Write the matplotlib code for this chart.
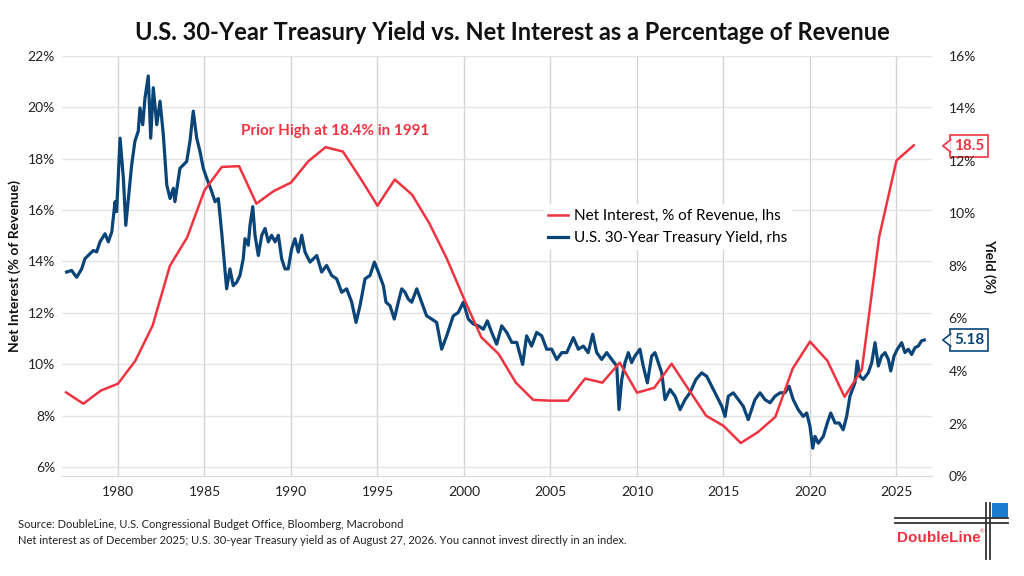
import numpy as np
import matplotlib
matplotlib.use("Agg")
import matplotlib.pyplot as plt
import matplotlib.transforms as mtransforms
from matplotlib.patches import Polygon, Rectangle
from matplotlib.lines import Line2D

plt.rcParams['font.family'] = ['Lato', 'DejaVu Sans']

RED = '#ef3340'
BLUE = '#0b4577'

# net interest, % of revenue (annual, left axis)
ni_years = list(range(1977, 2027))
net_interest = [8.90, 8.46, 8.97, 9.24, 10.13, 11.50, 13.83, 14.94, 16.77, 17.68,
                17.71, 16.25, 16.74, 17.07, 17.90, 18.45, 18.28, 17.25, 16.17, 17.19,
                16.60, 15.48, 14.12, 12.55, 11.05, 10.40, 9.28, 8.61, 8.58, 8.58,
                9.44, 9.28, 10.06, 8.89, 9.08, 10.02, 9.00, 7.99, 7.60, 6.93,
                7.36, 7.95, 9.83, 10.88, 10.14, 8.73, 9.79, 14.96, 17.93, 18.52]

# U.S. 30-year treasury yield (right axis)
ty_dates = [1977.03, 1977.32, 1977.61, 1977.90, 1978.09, 1978.57, 1978.77, 1978.96, 1979.25, 1979.44,
            1979.64, 1979.83, 1979.92, 1980.12, 1980.31, 1980.45, 1980.60, 1980.79, 1980.98, 1981.17,
            1981.27, 1981.43, 1981.56, 1981.75, 1981.89, 1982.04, 1982.24, 1982.43, 1982.62, 1982.82,
            1983.01, 1983.20, 1983.29, 1983.58, 1983.77, 1983.97, 1984.16, 1984.35, 1984.55, 1984.74,
            1984.93, 1985.13, 1985.42, 1985.61, 1985.80, 1985.99, 1986.18, 1986.28, 1986.47, 1986.66,
            1986.86, 1987.05, 1987.24, 1987.34, 1987.53, 1987.63, 1987.79, 1987.92, 1988.11, 1988.31,
            1988.50, 1988.69, 1988.88, 1989.08, 1989.27, 1989.46, 1989.65, 1989.84, 1990.04, 1990.23,
            1990.42, 1990.62, 1990.81, 1991.10, 1991.49, 1991.77, 1992.06, 1992.35, 1992.64, 1992.93,
            1993.22, 1993.51, 1993.76, 1993.99, 1994.28, 1994.57, 1994.82, 1995.05, 1995.34, 1995.49,
            1995.72, 1995.97, 1996.20, 1996.40, 1996.59, 1996.78, 1996.98, 1997.27, 1997.55, 1997.84,
            1998.13, 1998.42, 1998.71, 1999.00, 1999.38, 1999.67, 1999.96, 2000.25, 2000.54, 2000.83,
            2001.12, 2001.35, 2001.60, 2001.89, 2002.18, 2002.47, 2002.76, 2003.05, 2003.39, 2003.62,
            2003.91, 2004.20, 2004.49, 2004.78, 2005.07, 2005.36, 2005.65, 2005.94, 2006.32, 2006.61,
            2006.90, 2007.18, 2007.44, 2007.67, 2007.96, 2008.25, 2008.54, 2008.83, 2008.96, 2009.12,
            2009.31, 2009.50, 2009.69, 2009.88, 2010.17, 2010.36, 2010.60, 2010.85, 2011.04, 2011.23,
            2011.43, 2011.62, 2011.91, 2012.20, 2012.49, 2012.78, 2013.06, 2013.41, 2013.74, 2014.03,
            2014.32, 2014.61, 2014.90, 2015.09, 2015.28, 2015.57, 2015.86, 2016.14, 2016.43, 2016.82,
            2017.11, 2017.40, 2017.69, 2017.98, 2018.27, 2018.55, 2018.79, 2019.03, 2019.32, 2019.61,
            2019.81, 2020.00, 2020.16, 2020.29, 2020.48, 2020.77, 2021.00, 2021.20, 2021.45, 2021.69,
            2021.92, 2022.12, 2022.31, 2022.60, 2022.73, 2022.89, 2023.08, 2023.37, 2023.57, 2023.76,
            2023.95, 2024.14, 2024.34, 2024.53, 2024.67, 2024.86, 2025.05, 2025.30, 2025.49, 2025.68,
            2025.88, 2026.07, 2026.26, 2026.45, 2026.61]
ty_yield = [7.77, 7.83, 7.57, 7.89, 8.28, 8.59, 8.54, 8.92, 9.23, 8.92,
            9.30, 10.45, 10.07, 12.87, 11.34, 9.55, 10.57, 11.85, 12.76, 13.13,
            14.02, 13.38, 14.40, 15.24, 12.87, 14.79, 13.38, 14.28, 13.00, 11.08,
            10.57, 10.96, 10.45, 11.72, 11.85, 11.98, 12.75, 13.90, 12.87, 12.36,
            11.72, 11.34, 10.83, 10.45, 10.57, 9.30, 7.89, 7.13, 7.89, 7.25,
            7.38, 7.64, 8.28, 9.04, 8.79, 9.55, 10.26, 9.17, 8.40, 9.17,
            9.43, 8.92, 9.17, 8.92, 9.17, 8.28, 7.89, 7.89, 8.66, 9.04,
            8.53, 9.17, 8.53, 8.15, 8.40, 7.77, 8.02, 7.64, 7.51, 7.00,
            7.13, 6.62, 5.85, 6.49, 7.51, 7.64, 8.15, 7.77, 7.25, 6.62,
            6.49, 5.98, 6.62, 7.13, 7.00, 6.74, 6.62, 7.13, 6.62, 6.10,
            5.98, 5.85, 4.83, 5.34, 6.10, 6.23, 6.62, 5.98, 5.79, 5.72,
            5.59, 5.91, 5.47, 5.02, 5.72, 5.47, 5.09, 5.09, 4.25, 5.34,
            4.95, 5.47, 5.34, 4.83, 4.83, 4.44, 4.70, 4.70, 5.27, 4.83,
            4.95, 4.70, 5.40, 4.70, 4.44, 4.70, 4.44, 4.19, 2.53, 3.68,
            4.32, 4.70, 4.32, 4.57, 4.83, 4.19, 3.55, 4.57, 4.70, 4.32,
            3.93, 2.91, 3.30, 3.04, 2.53, 2.91, 3.17, 3.68, 3.93, 3.80,
            3.42, 3.04, 2.66, 2.27, 3.04, 3.17, 2.91, 2.66, 2.15, 2.91,
            3.17, 2.91, 2.79, 3.04, 3.17, 3.17, 3.42, 2.91, 2.53, 2.27,
            2.40, 1.89, 1.06, 1.51, 1.25, 1.51, 2.02, 2.40, 2.02, 2.02,
            1.76, 2.27, 3.04, 3.55, 4.38, 3.80, 3.68, 3.93, 4.32, 5.08,
            4.19, 4.57, 4.70, 4.44, 4.00, 4.57, 4.83, 5.08, 4.70, 4.83,
            4.63, 4.89, 4.95, 5.15, 5.18]

ni_last = 18.5
ty_last = 5.18

fig = plt.figure(figsize=(10.24, 5.76), dpi=100)
ax = fig.add_axes([0.0605, 0.1736, 0.8496, 0.7292])
ax2 = ax.twinx()

ax.set_xlim(1976.76, 2027.05)
ax.set_ylim(5.646, 22)
ax2.set_ylim(0, 16)

ax.set_yticks(np.arange(6, 23, 2))
ax.set_yticklabels([f'{v}%' for v in range(6, 23, 2)])
ax2.set_yticks(np.arange(0, 17, 2))
ax2.set_yticklabels([f'{v}%' for v in range(0, 17, 2)])
ax.set_xticks(np.arange(1980, 2026, 5))

ax.grid(True, axis='y', color='#e3e3e3', lw=1.0)
ax.grid(True, axis='x', color='#d4d4d4', lw=1.0)
ax.set_axisbelow(True)
for a in (ax, ax2):
    for s in ('left', 'right', 'top'):
        a.spines[s].set_visible(False)
    a.spines['bottom'].set_color('#d9d9d9')
ax.tick_params(axis='both', length=0, labelsize=10, colors='#222222')
ax.tick_params(axis='y', pad=5)
ax.tick_params(axis='x', pad=7)
ax2.tick_params(axis='y', length=0, labelsize=10, colors='#222222', pad=12)

# blue on the twin axis, red drawn on top using left-axis scale
ax2.plot(ty_dates, ty_yield, color=BLUE, lw=2.3, label='U.S. 30-Year Treasury Yield, rhs', zorder=2)
ax2.plot(ni_years, net_interest, color=RED, lw=1.8, transform=ax.transData,
         label='Net Interest, % of Revenue, lhs', zorder=3)

h, l = ax2.get_legend_handles_labels()
leg = ax2.legend(h[::-1], l[::-1], loc='upper left', bbox_to_anchor=(0.545, 0.665),
                 frameon=True, fontsize=11, handlelength=1.3, handletextpad=0.4,
                 labelspacing=0.55, borderpad=0.3)
leg.get_frame().set_facecolor('white')
leg.get_frame().set_edgecolor('none')
leg.get_frame().set_alpha(1)

ax.text(1992.55, 19.06, 'Prior High at 18.4% in 1991', color=RED, fontsize=11,
        fontweight='bold', ha='center', va='center')

ax.set_ylabel('Net Interest (% of Revenue)', fontsize=10, fontweight='bold', color='#111111')
ax.yaxis.set_label_coords(-0.047, 0.5)
ax2.set_ylabel('Yield (%)', fontsize=10, fontweight='bold', color='#111111', rotation=270)
ax2.yaxis.set_label_coords(1.073, 0.5)


def callout(axis, value, text, color):
    tr = mtransforms.blended_transform_factory(axis.transAxes, axis.transData)
    yr = axis.get_ylim()
    dy = (yr[1] - yr[0]) * 0.0145
    axis.text(1.0255, value, text, transform=tr, color=color, fontsize=11,
              fontweight='bold', ha='left', va='center', clip_on=False, zorder=5,
              bbox=dict(boxstyle='square,pad=0.25', fc='white', ec=color, lw=1.2))
    tri = Polygon([(1.0125, value), (1.0215, value + dy), (1.0215, value - dy)],
                  closed=True, transform=tr, fc='white', ec='none', clip_on=False, zorder=6)
    axis.add_patch(tri)
    axis.add_line(Line2D([1.0215, 1.0125, 1.0215], [value + dy, value, value - dy],
                         transform=tr, color=color, lw=1.2, clip_on=False, zorder=7))


callout(ax, ni_last, f'{ni_last:.1f}', RED)
callout(ax2, ty_last, f'{ty_last:.2f}', BLUE)

fig.text(0.5, 1 - 32 / 576, 'U.S. 30-Year Treasury Yield vs. Net Interest as a Percentage of Revenue',
         ha='center', va='center', fontsize=17, fontweight='bold', color='#111111')

fig.text(18 / 1024, 1 - 524 / 576, 'Source: DoubleLine, U.S. Congressional Budget Office, Bloomberg, Macrobond',
         ha='left', va='center', fontsize=8, color='#222222')
fig.text(18 / 1024, 1 - 541 / 576, 'Net interest as of December 2025; U.S. 30-year Treasury yield as of August 27, 2026. You cannot invest directly in an index.',
         ha='left', va='center', fontsize=8, color='#222222')

# DoubleLine logo
W, H = 1024, 576
for yy in (518.3, 523.3):
    fig.add_artist(Line2D([895 / W, 1008 / W], [1 - yy / H, 1 - yy / H], color='#333333', lw=1.3))
for xx in (986, 990):
    fig.add_artist(Line2D([xx / W, xx / W], [1 - 503 / H, 1 - 559 / H], color='#333333', lw=1.3))
fig.add_artist(Rectangle((991.5 / W, 1 - 517.5 / H), 16.5 / W, 14.5 / H, transform=fig.transFigure,
                         fc='#1a7ccc', ec='none'))
fig.text(939 / W, 1 - 538 / H, 'DoubleLine', ha='center', va='center', fontsize=11,
         fontweight='bold', color=RED, family=['Liberation Sans', 'DejaVu Sans'])
fig.text(982 / W, 1 - 532 / H, '®', ha='center', va='center', fontsize=4, color=RED)

fig.savefig('out.png', dpi=100)
